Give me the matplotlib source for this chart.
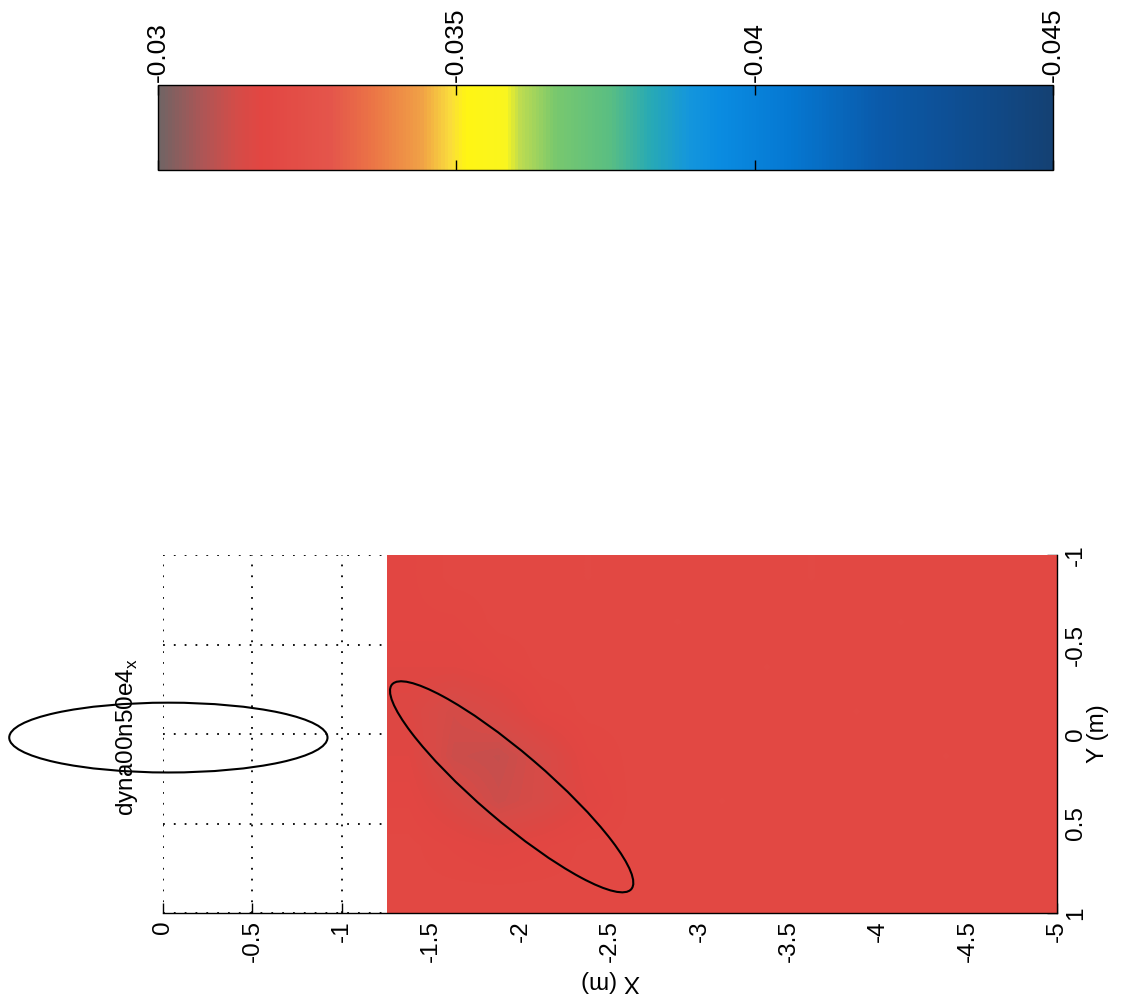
import numpy as np
import matplotlib
matplotlib.use("Agg")
import matplotlib.pyplot as plt
from matplotlib.colors import LinearSegmentedColormap
from matplotlib.patches import Ellipse

plt.rcParams['font.family'] = ['Liberation Sans', 'DejaVu Sans']

# ---------------- data ----------------
title_text = r'dyna00n50e4$_{\mathregular{x}}$'
x_label = 'X (m)'
y_label = 'Y (m)'

x_ticks = [0, -0.5, -1, -1.5, -2, -2.5, -3, -3.5, -4, -4.5, -5]
x_tick_labels = ['0', '-0.5', '-1', '-1.5', '-2', '-2.5', '-3', '-3.5', '-4', '-4.5', '-5']
y_ticks = [-1, -0.5, 0, 0.5, 1]
y_tick_labels = ['-1', '-0.5', '0', '0.5', '1']

c_ticks = [-0.03, -0.035, -0.04, -0.045]
c_tick_labels = ['-0.03', '-0.035', '-0.04', '-0.045']
c_min, c_max = -0.045, -0.03

# field extent in data units (X from -1.25 to -5, Y from -1 to 1)
field_x_range = [-1.25, -5.0]
field_y_range = [-1.0, 1.0]
# rows: Y = -0.875 ... 0.875 ; cols: X = -1.375 ... -4.875
field_values = np.array([
    [-0.0318, -0.0319, -0.0319, -0.0319, -0.0320, -0.0319, -0.0319, -0.0319, -0.0319, -0.0320, -0.0319, -0.0319, -0.0319, -0.0319, -0.0319],
    [-0.0318, -0.0318, -0.0319, -0.0319, -0.0319, -0.0319, -0.0320, -0.0319, -0.0319, -0.0319, -0.0319, -0.0320, -0.0319, -0.0319, -0.0319],
    [-0.0317, -0.0317, -0.0318, -0.0319, -0.0319, -0.0319, -0.0319, -0.0319, -0.0320, -0.0319, -0.0319, -0.0319, -0.0319, -0.0319, -0.0319],
    [-0.0316, -0.0313, -0.0315, -0.0318, -0.0319, -0.0319, -0.0319, -0.0319, -0.0319, -0.0319, -0.0320, -0.0319, -0.0319, -0.0319, -0.0319],
    [-0.0317, -0.0312, -0.0311, -0.0314, -0.0318, -0.0319, -0.0319, -0.0319, -0.0319, -0.0319, -0.0319, -0.0319, -0.0320, -0.0319, -0.0319],
    [-0.0318, -0.0315, -0.0312, -0.0314, -0.0317, -0.0319, -0.0319, -0.0320, -0.0319, -0.0319, -0.0319, -0.0319, -0.0319, -0.0319, -0.0319],
    [-0.0319, -0.0318, -0.0317, -0.0318, -0.0319, -0.0319, -0.0319, -0.0319, -0.0319, -0.0319, -0.0319, -0.0319, -0.0319, -0.0319, -0.0319],
    [-0.0319, -0.0319, -0.0319, -0.0319, -0.0319, -0.0319, -0.0319, -0.0319, -0.0319, -0.0319, -0.0319, -0.0319, -0.0319, -0.0319, -0.0319],
])

# ellipses: (center X, center Y, semi-axis along angle, semi-axis across, angle deg in data space)
ellipse_ref = (-0.03, 0.02, 0.89, 0.195, 0.0)
ellipse_fit = (-1.95, 0.295, 0.88, 0.19, 139.5)

# ---------------- colormap (printed jet look) ----------------
cmap_stops = [
    (0.000, (20, 65, 115)),
    (0.082, (15, 75, 140)),
    (0.193, (10, 90, 170)),
    (0.294, (5, 120, 210)),
    (0.372, (10, 140, 225)),
    (0.406, (20, 150, 220)),
    (0.450, (40, 170, 180)),
    (0.495, (90, 190, 130)),
    (0.556, (120, 200, 110)),
    (0.596, (190, 220, 80)),
    (0.612, (250, 245, 30)),
    (0.657, (255, 245, 20)),
    (0.674, (250, 220, 60)),
    (0.707, (240, 160, 70)),
    (0.763, (235, 115, 70)),
    (0.808, (228, 85, 75)),
    (0.886, (226, 70, 66)),
    (0.914, (212, 76, 72)),
    (0.953, (172, 86, 86)),
    (1.000, (112, 100, 100)),
]
cmap = LinearSegmentedColormap.from_list(
    'printed_jet', [(p, tuple(v / 255 for v in c)) for p, c in cmap_stops], N=256)

# ---------------- figure ----------------
W, H = 1123, 1007
fig = plt.figure(figsize=(W / 100, H / 100), dpi=100)
fig.patch.set_facecolor('white')

FS = 17.5
FS_CB = 19

ax = fig.add_axes([163 / W, 1 - 913 / H, (1057 - 163) / W, (913 - 555) / H])

im = ax.imshow(field_values, cmap=cmap, vmin=c_min, vmax=c_max, origin='upper',
               extent=(field_x_range[0], field_x_range[1], field_y_range[1], field_y_range[0]),
               interpolation='bilinear', aspect='auto', zorder=1)
ax.set_xlim(0, -5)
ax.set_ylim(1, -1)

ax.set_axisbelow(True)
ax.grid(True, color='black', linestyle=(0, (1, 5)), linewidth=1.3)

for s in ['top', 'left']:
    ax.spines[s].set_visible(False)
for s in ['bottom', 'right']:
    ax.spines[s].set_color('black')
    ax.spines[s].set_linewidth(1.0)
    ax.spines[s].set_zorder(3)

ax.yaxis.tick_right()
ax.yaxis.set_label_position('right')
ax.tick_params(direction='in', length=7, width=1, labelsize=FS,
               top=False, left=False, right=True, bottom=True)
ax.tick_params(axis='x', pad=5)
ax.tick_params(axis='y', pad=6)

ax.set_xticks(x_ticks)
ax.set_xticklabels(x_tick_labels, rotation=90)
ax.set_yticks(y_ticks)
ax.set_yticklabels(y_tick_labels, rotation=90, va='center')

ax.set_xlabel(x_label, rotation=180, fontsize=FS, va='center')
ax.xaxis.set_label_coords(0.5, -0.19)
ax.set_ylabel(y_label, rotation=90, fontsize=FS, labelpad=0)

ax.text(-0.040, 0.49, title_text, transform=ax.transAxes, rotation=90,
        ha='center', va='center', fontsize=FS)

for cx, cy, a, b, ang in [ellipse_ref, ellipse_fit]:
    e = Ellipse((cx, cy), width=2 * a, height=2 * b, angle=ang, fill=False,
                edgecolor='black', linewidth=1.5, zorder=4, clip_on=False)
    ax.add_patch(e)

# ---------------- colorbar ----------------
cax = fig.add_axes([158 / W, 1 - 170 / H, 895 / W, 85 / H])
cbar = fig.colorbar(im, cax=cax, orientation='horizontal')
cbar.outline.set_linewidth(1.0)
cbar.outline.set_edgecolor('black')
cax.invert_xaxis()
cbar.set_ticks(c_ticks)
cax.set_xticklabels(c_tick_labels, rotation=90)
cax.xaxis.set_ticks_position('both')
cax.tick_params(axis='x', direction='in', length=7, width=1, labelsize=FS_CB,
                top=True, bottom=True, labeltop=True, labelbottom=False, pad=2)
for lbl in cax.get_xticklabels():
    lbl.set_va('bottom')

fig.savefig('out.png', dpi=100, facecolor='white')
